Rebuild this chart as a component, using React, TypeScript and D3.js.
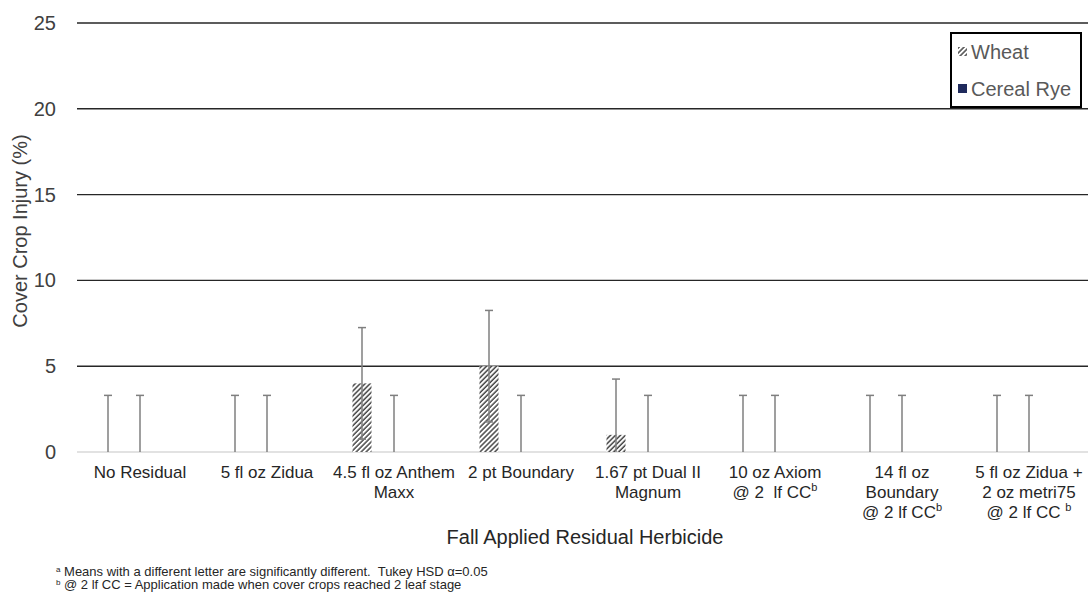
import React from 'react';
import * as d3 from 'd3';

// treatments, in chart order
const categories = [
  'No Residual',
  '5 fl oz Zidua',
  '4.5 fl oz Anthem Maxx',
  '2 pt Boundary',
  '1.67 pt Dual II Magnum',
  '10 oz Axiom @ 2 lf CC',
  '14 fl oz Boundary @ 2 lf CC',
  '5 fl oz Zidua + 2 oz metri75 @ 2 lf CC',
];

// wrapped axis labels; "^b" marks a superscript b
const categoryLines = [
  ['No Residual'],
  ['5 fl oz Zidua'],
  ['4.5 fl oz Anthem', 'Maxx'],
  ['2 pt Boundary'],
  ['1.67 pt Dual II', 'Magnum'],
  ['10 oz Axiom', '@ 2  lf CC^b'],
  ['14 fl oz', 'Boundary', '@ 2 lf CC^b'],
  ['5 fl oz Zidua +', '2 oz metri75', '@ 2 lf CC ^b'],
];

const seriesNames = ['Wheat', 'Cereal Rye'];
const wheat = [0, 0, 4, 5, 1, 0, 0, 0];
const cerealRye = [0, 0, 0, 0, 0, 0, 0, 0];
const wheatErr = [3.3, 3.3, 3.25, 3.25, 3.25, 3.3, 3.3, 3.3];
const cerealRyeErr = [3.3, 3.3, 3.3, 3.3, 3.3, 3.3, 3.3, 3.3];
const yTicks = [0, 5, 10, 15, 20, 25];

const W = 1088;
const H = 592;

const App: React.FC = () => {
  const x0 = d3.scaleBand<string>().domain(categories).range([76.5, 1092.5]);
  // third slot is an empty series position, as in the original layout
  const x1 = d3.scaleBand<string>().domain([...seriesNames, '_']).range([-48, 48]);
  const y = d3.scaleLinear().domain([0, 25]).range([452, 23]);

  const barW = 19;
  const cap = 4;
  const seriesVals = [wheat, cerealRye];
  const seriesErr = [wheatErr, cerealRyeErr];

  const renderLine = (s: string) => {
    const parts = s.split('^');
    if (parts.length === 1) return s;
    return (
      <>
        {parts[0]}
        <tspan dy={-7} fontSize={11}>{parts[1]}</tspan>
      </>
    );
  };

  return (
    <svg
      width={W}
      height={H}
      style={{ position: 'absolute', left: 0, top: 0, background: '#fff' }}
      fontFamily="'Liberation Sans', Arial, sans-serif"
    >
      <defs>
        <pattern id="hatch" width={3.5} height={3.5} patternUnits="userSpaceOnUse" patternTransform="rotate(45)">
          <rect width={3.5} height={3.5} fill="#fff" />
          <line x1={1} y1={0} x2={1} y2={3.5} stroke="#3a3a3a" strokeWidth={1.4} />
        </pattern>
      </defs>

      {/* gridlines */}
      {yTicks.map((t) => (
        <line
          key={t}
          x1={77}
          x2={W}
          y1={y(t)}
          y2={y(t)}
          stroke={t === 0 ? '#d9d9d9' : '#262626'}
          strokeWidth={t === 0 ? 1.5 : 1.4}
        />
      ))}

      {/* y tick labels */}
      {yTicks.map((t) => (
        <text key={t} x={56} y={y(t)} dy="0.35em" textAnchor="end" fontSize={20} fill="#404040">
          {t}
        </text>
      ))}

      <text
        transform={`translate(20,${231}) rotate(-90)`}
        textAnchor="middle"
        dy="0.35em"
        fontSize={20}
        fill="#404040"
      >
        Cover Crop Injury (%)
      </text>

      {/* bars */}
      {categories.map((c, i) =>
        seriesNames.map((s, j) => {
          const v = seriesVals[j][i];
          const cx = (x0(c) ?? 0) + x0.bandwidth() / 2 + (x1(s) ?? 0) + x1.bandwidth() / 2;
          if (v <= 0) return null;
          return (
            <rect
              key={c + s}
              x={cx - barW / 2}
              y={y(v)}
              width={barW}
              height={y(0) - y(v)}
              fill={j === 0 ? 'url(#hatch)' : '#1f2a5c'}
            />
          );
        })
      )}

      {/* error bars */}
      {categories.map((c, i) =>
        seriesNames.map((s, j) => {
          const v = seriesVals[j][i];
          const e = seriesErr[j][i];
          const cx = (x0(c) ?? 0) + x0.bandwidth() / 2 + (x1(s) ?? 0) + x1.bandwidth() / 2;
          const hi = y(v + e);
          const lo = y(Math.max(0, v - e));
          return (
            <g key={'e' + c + s} stroke="#7f7f7f" strokeWidth={1.5}>
              <line x1={cx} x2={cx} y1={hi} y2={lo} />
              <line x1={cx - cap} x2={cx + cap} y1={hi} y2={hi} />
              {v - e > 0 && <line x1={cx - cap} x2={cx + cap} y1={lo} y2={lo} />}
            </g>
          );
        })
      )}

      {/* category labels */}
      {categories.map((c, i) => (
        <text
          key={'l' + c}
          x={(x0(c) ?? 0) + x0.bandwidth() / 2}
          y={478}
          textAnchor="middle"
          fontSize={17}
          fill="#262626"
          style={{ whiteSpace: 'pre' }}
        >
          {categoryLines[i].map((ln, k) => (
            <tspan key={k} x={(x0(c) ?? 0) + x0.bandwidth() / 2} y={478 + k * 20}>
              {renderLine(ln)}
            </tspan>
          ))}
        </text>
      ))}

      <text x={585} y={544} textAnchor="middle" fontSize={20} fill="#262626">
        Fall Applied Residual Herbicide
      </text>

      {/* legend */}
      <g>
        <rect x={951} y={33} width={130} height={74} fill="#fff" stroke="#000" strokeWidth={2} />
        <rect x={958} y={47} width={9} height={9} fill="url(#hatch)" />
        <text x={971} y={52} dy="0.35em" fontSize={20} fill="#595959">
          {seriesNames[0]}
        </text>
        <rect x={958} y={84} width={9} height={9} fill="#1f2a5c" />
        <text x={971} y={89} dy="0.35em" fontSize={20} fill="#595959">
          {seriesNames[1]}
        </text>
      </g>

      {/* footnotes */}
      <text x={56} y={576} fontSize={13} fill="#262626" style={{ whiteSpace: 'pre' }}>
        <tspan fontSize={8} dy={-4}>a</tspan>
        <tspan dy={4}> Means with a different letter are significantly different.  Tukey HSD α=0.05</tspan>
      </text>
      <text x={56} y={589} fontSize={13} fill="#262626" style={{ whiteSpace: 'pre' }}>
        <tspan fontSize={8} dy={-4}>b</tspan>
        <tspan dy={4}> @ 2 lf CC = Application made when cover crops reached 2 leaf stage</tspan>
      </text>
    </svg>
  );
};

export default App;
